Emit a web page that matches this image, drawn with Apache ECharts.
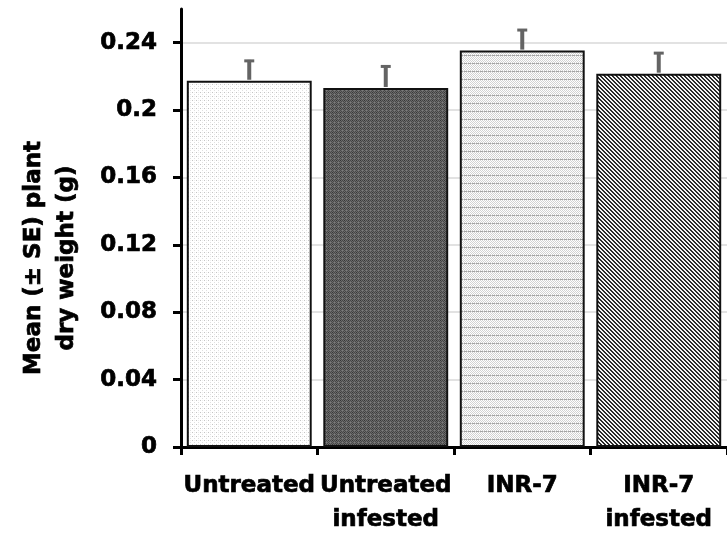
<!DOCTYPE html>
<html>
<head>
<meta charset="utf-8">
<script src="https://cdn.jsdelivr.net/npm/echarts@6/dist/echarts.min.js"></script>
<style>html,body{margin:0;padding:0;background:#fff;}#c{width:727px;height:537px;}</style>
</head>
<body>
<div id="c"></div>
<script>
const categories = ['Untreated', 'Untreated\ninfested', 'INR-7', 'INR-7\ninfested'];
const means = [0.2174, 0.2131, 0.2353, 0.2216];
const se = [0.0124, 0.0134, 0.0128, 0.0128];
const yTicks = [0, 0.04, 0.08, 0.12, 0.16, 0.2, 0.24];
const yLabels = ['0', '0.04', '0.08', '0.12', '0.16', '0.2', '0.24'];

function makeTile(size, draw) {
  const c = document.createElement('canvas');
  c.width = size; c.height = size;
  const ctx = c.getContext('2d');
  draw(ctx);
  return c;
}
function px(ctx, x, y, col) { ctx.fillStyle = col; ctx.fillRect(x, y, 1, 1); }

const tileLightDots = makeTile(4, ctx => {
  ctx.fillStyle = '#ffffff'; ctx.fillRect(0, 0, 4, 4);
  px(ctx, 0, 0, '#c4c4c4'); px(ctx, 2, 2, '#e0e0e0'); px(ctx, 2, 0, '#eeeeee');
});
const tileDark = makeTile(4, ctx => {
  for (let y = 0; y < 4; y++) for (let x = 0; x < 4; x++) {
    px(ctx, x, y, ((x + y) % 2 === 0) ? '#474747' : '#6c6c6c');
  }
  px(ctx, 0, 0, '#363636'); px(ctx, 2, 2, '#7c7c7c');
});
const tileDashed = makeTile(8, ctx => {
  ctx.fillStyle = '#ffffff'; ctx.fillRect(0, 0, 8, 8);
  for (let y = 0; y < 8; y++) for (let x = 0; x < 8; x++) {
    if ((x + y) % 2 === 0) px(ctx, x, y, '#d2d2d2');
  }
  for (let x = 0; x < 8; x++) { if (x % 4 !== 3) px(ctx, x, 7, '#a4a4a4'); }
});
const tileDiag = makeTile(4, ctx => {
  for (let y = 0; y < 4; y++) for (let x = 0; x < 4; x++) {
    const m = ((x - y) % 4 + 4) % 4;
    px(ctx, x, y, (m === 0 || m === 1) ? '#2a2a2a' : '#f4f4f4');
  }
});
const fills = [tileLightDots, tileDark, tileDashed, tileDiag];

const font = 'DejaVu Sans';
const heavy = { textBorderColor: '#000', textBorderWidth: 0.7 };
const chart = echarts.init(document.getElementById('c'), null, { renderer: 'canvas' });
chart.setOption({
  animation: false,
  backgroundColor: '#ffffff',
  grid: { left: 181, top: 9, width: 550, bottom: 87 },
  xAxis: {
    type: 'category',
    data: categories,
    axisLine: { lineStyle: { color: '#000', width: 3 } },
    axisTick: { show: true, length: 8, lineStyle: { color: '#000', width: 3 } },
    axisLabel: Object.assign({ interval: 0, color: '#000', fontFamily: font, fontWeight: 'bold', fontSize: 23, lineHeight: 34, margin: 22 }, heavy),
    splitLine: { show: false }
  },
  yAxis: {
    type: 'value',
    min: 0, max: 0.26, interval: 0.04,
    axisLine: { show: true, lineStyle: { color: '#000', width: 3 } },
    axisTick: { show: true, length: 8, lineStyle: { color: '#000', width: 3 }, customValues: yTicks },
    axisLabel: Object.assign({
      color: '#000', fontFamily: font, fontWeight: 'bold', fontSize: 23, margin: 24,
      customValues: yTicks,
      formatter: v => { const i = yTicks.findIndex(t => Math.abs(t - v) < 1e-9); return i >= 0 ? yLabels[i] : ''; }
    }, heavy),
    splitLine: { show: true, lineStyle: { color: ['#d9d9d9','#d9d9d9','#d9d9d9','#d9d9d9','#d9d9d9','#d9d9d9','#d9d9d9','rgba(0,0,0,0)'], width: 1.5 } }
  },
  graphic: [{
    type: 'text',
    x: 51, y: 258,
    rotation: Math.PI / 2,
    style: {
      text: 'Mean (± SE) plant\ndry weight (g)',
      fontFamily: font, fontWeight: 'bold', fontSize: 23, lineHeight: 33,
      fill: '#000', align: 'center', verticalAlign: 'middle',
      stroke: '#000', lineWidth: 0.7
    }
  }],
  series: [{
    type: 'bar',
    barWidth: '91.5%',
    data: means.map((m, i) => ({ value: m, itemStyle: { color: { image: fills[i], repeat: 'repeat' }, borderColor: '#111', borderWidth: 2 } })),
    z: 2
  }, {
    type: 'custom',
    z: 3,
    data: means.map((m, i) => [i, m, se[i]]),
    encode: { x: 0, y: 1 },
    renderItem: (params, api) => {
      const i = api.value(0), m = api.value(1), s = api.value(2);
      const base = api.coord([i, m]);
      const top = api.coord([i, m + s]);
      return {
        type: 'group',
        children: [
          { type: 'line', shape: { x1: base[0], y1: base[1] - 1, x2: top[0], y2: top[1] }, style: { stroke: '#646464', lineWidth: 4 } },
          { type: 'line', shape: { x1: top[0] - 5, y1: top[1] + 1, x2: top[0] + 5, y2: top[1] + 1 }, style: { stroke: '#646464', lineWidth: 3 } }
        ]
      };
    }
  }]
});
</script>
</body>
</html>
